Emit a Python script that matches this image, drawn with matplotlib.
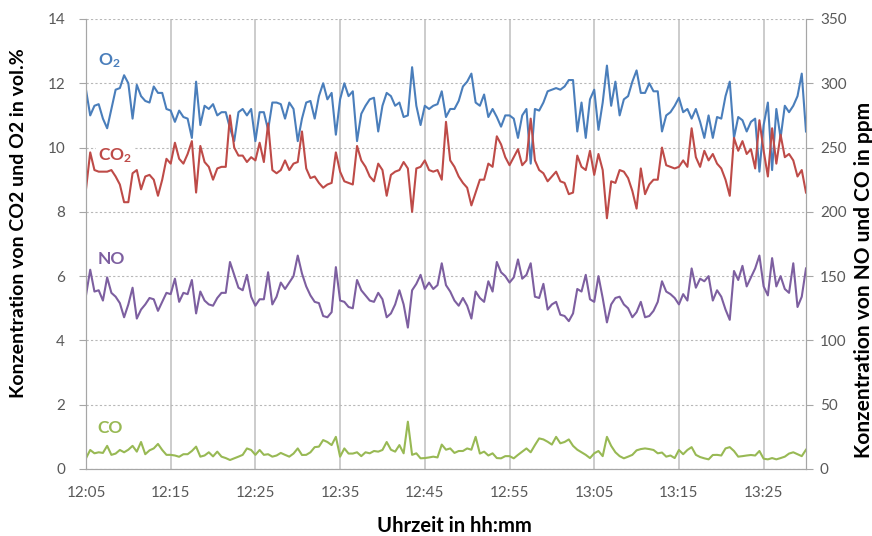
import numpy as np
import matplotlib.pyplot as plt

plt.rcParams['font.family'] = ['Lato', 'DejaVu Sans']

# Minuten ab 12:05, alle 30 s ein Messwert
minuten = np.arange(0, 85.5, 0.5)

# CO2 und O2 in vol.% (linke Achse)
o2 = [11.8, 11.0, 11.3, 11.35, 10.9, 10.6, 11.2, 11.8, 11.85, 12.25, 12.0, 10.9, 11.95, 11.6, 11.45, 11.4, 11.9, 11.7, 11.7, 11.2,
      11.15, 10.8, 11.15, 10.95, 10.9, 10.3, 12.05, 10.7, 11.3, 11.2, 11.35, 11.0, 11.1, 11.1, 10.6, 10.2, 11.1, 11.2, 11.0, 11.2,
      10.2, 11.1, 11.1, 10.55, 11.4, 11.4, 11.35, 10.9, 11.4, 11.2, 10.2, 10.9, 11.4, 11.45, 10.9, 11.6, 12.0, 11.5, 11.7, 10.4,
      11.5, 12.0, 11.6, 11.75, 10.2, 11.05, 11.3, 11.5, 11.55, 10.5, 11.3, 11.7, 11.6, 11.3, 11.4, 10.95, 11.0, 12.5, 11.3, 10.7,
      11.3, 11.2, 11.3, 11.35, 11.75, 10.95, 11.2, 11.2, 11.45, 11.9, 12.05, 12.3, 11.4, 11.3, 11.65, 10.95, 11.2, 10.95, 10.65, 11.0,
      11.0, 10.9, 10.3, 11.0, 11.2, 9.5, 11.2, 11.15, 11.4, 11.75, 11.8, 11.85, 11.8, 11.9, 12.1, 12.1, 10.5, 11.4, 10.3, 11.5,
      11.8, 10.55, 11.4, 12.55, 11.3, 12.05, 11.0, 11.5, 11.6, 12.05, 12.4, 11.7, 11.7, 12.0, 11.75, 11.75, 10.5, 11.0, 11.1, 11.3,
      11.55, 11.1, 11.2, 10.9, 11.2, 10.8, 10.3, 11.0, 10.3, 10.95, 10.9, 11.6, 12.05, 10.3, 10.95, 10.85, 10.5, 10.8, 10.9, 9.25,
      10.7, 11.4, 9.3, 11.2, 10.3, 11.3, 11.1, 11.3, 11.6, 12.3, 10.5]
co2 = [8.7, 9.85, 9.3, 9.25, 9.25, 9.25, 9.3, 9.1, 8.85, 8.3, 8.3, 9.2, 9.3, 8.7, 9.1, 9.15, 9.0, 8.5, 9.0, 9.65,
       9.5, 10.15, 9.65, 9.5, 9.8, 10.2, 8.6, 10.05, 9.55, 9.4, 9.0, 9.35, 9.4, 9.4, 11.0, 10.0, 9.75, 9.75, 9.55, 9.7,
       9.6, 10.15, 9.55, 10.75, 9.3, 9.2, 9.3, 9.6, 9.3, 9.5, 9.55, 10.5, 9.35, 9.05, 9.1, 8.9, 8.75, 8.85, 8.9, 9.85,
       9.25, 8.95, 8.9, 8.85, 10.05, 9.6, 9.4, 9.1, 8.95, 9.5, 9.3, 8.5, 9.15, 9.25, 9.3, 9.55, 9.35, 8.0, 9.35, 9.4,
       9.6, 9.3, 9.25, 9.3, 9.0, 10.8, 9.6, 9.4, 9.1, 8.9, 8.75, 8.2, 8.6, 9.0, 9.0, 9.5, 9.4, 10.35, 10.1, 9.7,
       9.45, 9.7, 9.95, 9.45, 9.6, 10.9, 9.6, 9.3, 9.2, 8.95, 9.1, 9.25, 8.95, 8.9, 8.55, 8.6, 9.75, 9.4, 9.3, 9.9,
       9.15, 9.8, 9.3, 7.8, 8.95, 8.9, 9.3, 9.25, 9.05, 8.65, 8.1, 9.35, 8.55, 8.85, 9.0, 9.0, 10.0, 9.45, 9.4, 9.35,
       9.4, 9.6, 9.4, 10.6, 9.7, 9.4, 9.9, 9.6, 9.8, 9.5, 9.35, 9.0, 8.5, 10.3, 9.9, 10.2, 9.8, 9.95, 9.35, 10.85,
       9.9, 9.1, 10.6, 9.5, 10.4, 9.7, 9.8, 9.6, 9.1, 9.3, 8.6]

# NO und CO in ppm (rechte Achse)
no = [135, 155, 138, 139, 131, 149, 137, 134, 129, 118, 128, 141, 117, 124, 128, 133, 132, 123, 130, 137,
      136, 148, 130, 137, 136, 147, 121, 138, 131, 128, 127, 133, 137, 137, 161, 151, 141, 139, 151, 134,
      127, 132, 132, 153, 128, 134, 145, 140, 145, 150, 166, 152, 142, 135, 130, 129, 119, 118, 122, 157,
      131, 130, 126, 125, 147, 139, 135, 131, 130, 137, 132, 118, 121, 128, 139, 128, 110, 139, 144, 151,
      140, 145, 140, 143, 160, 143, 138, 131, 127, 133, 127, 117, 138, 133, 130, 146, 138, 161, 153, 150,
      145, 149, 163, 148, 151, 160, 134, 133, 144, 124, 128, 130, 120, 119, 115, 121, 140, 138, 151, 132,
      130, 150, 133, 114, 128, 133, 134, 128, 125, 118, 122, 130, 118, 119, 123, 130, 146, 138, 136, 133,
      128, 136, 131, 156, 141, 148, 146, 150, 131, 139, 134, 124, 116, 154, 147, 158, 142, 149, 156, 166,
      142, 135, 164, 142, 150, 140, 137, 160, 126, 134, 156]
co = [8.3, 14.8, 12.2, 13, 12.5, 18, 11, 12, 14.8, 13, 15, 18, 13.5, 21, 11.5, 14.5, 16, 19.5, 14.8, 11,
      11, 10.5, 9.5, 11.5, 11.5, 14, 17.4, 9.6, 10.5, 13, 9.8, 13.5, 9.6, 8.5, 7.0, 8.3, 9.6, 11, 16, 14.8,
      11, 14.8, 11, 11.5, 9.6, 10.5, 12.5, 11, 9.6, 12, 16, 10.9, 11, 13, 17, 17.4, 22.5, 21, 18.6, 25,
      9.6, 16, 12, 12, 13, 10, 13, 12.2, 14, 13.5, 14.8, 21, 15, 13.5, 18.6, 12.2, 36.8, 11, 12.2, 8.3,
      8.5, 9, 9.6, 9, 19, 15, 16, 12.5, 14, 14, 16, 15, 25, 12, 13.5, 10.5, 12.2, 8.5, 8.3, 10,
      10, 8.3, 11, 13.5, 16, 13, 18.6, 23.8, 23, 21.2, 19, 25, 20, 21, 23, 18, 15, 13, 11, 8.5,
      12.2, 14, 10, 25, 18, 13, 10, 8.3, 9.6, 11, 14.5, 15.5, 16, 15.5, 14.8, 12.2, 12.8, 9.6, 10.5, 8.5,
      14.8, 11.5, 14.8, 17, 11, 9.3, 8.3, 7.5, 10.9, 11, 10.5, 16, 17, 14, 9.6, 10, 10.5, 10.9, 10.5, 14,
      8, 7.5, 8.5, 7.5, 8.5, 9.6, 12, 13, 11.5, 10, 15]

zeit_ticks = [0, 10, 20, 30, 40, 50, 60, 70, 80]
zeit_labels = ['12:05', '12:15', '12:25', '12:35', '12:45', '12:55', '13:05', '13:15', '13:25']

blau = '#4a7ebb'
rot = '#be4b48'
lila = '#7d5fa0'
gruen = '#98b954'
grau = '#595959'

fig = plt.figure(figsize=(8.72, 5.36), dpi=100)
ax = fig.add_axes([0.0986, 0.125, 0.8257, 0.8396])
ax2 = ax.twinx()

ax.plot(minuten, o2, color=blau, lw=1.5, zorder=3)
ax.plot(minuten, co2, color=rot, lw=1.5, zorder=3)
ax2.plot(minuten, no, color=lila, lw=1.5)
ax2.plot(minuten, co, color=gruen, lw=1.5)

ax.set_xlim(0, 85)
ax.set_ylim(0, 14)
ax2.set_ylim(0, 350)
ax.set_yticks(range(0, 15, 2))
ax2.set_yticks(range(0, 351, 50))
ax.set_xticks(zeit_ticks)
ax.set_xticklabels(zeit_labels)

ax.yaxis.grid(True, linestyle=(0, (2, 2)), color='#b8b8b8', lw=0.8)
ax.xaxis.grid(True, linestyle='-', color='#c4c4c4', lw=1.2)
ax.set_axisbelow(True)

for a in (ax, ax2):
    for s in a.spines.values():
        s.set_color('#a6a6a6')
    a.spines['top'].set_visible(False)
    a.tick_params(colors='#a6a6a6', labelcolor=grau, labelsize=11, length=5)
ax.tick_params(axis='y', pad=10)
ax2.tick_params(axis='y', pad=5)
ax.tick_params(axis='x', length=0, pad=12)

ax.set_xlabel('Uhrzeit in hh:mm', fontsize=14.5, fontweight='bold')
ax.xaxis.set_label_coords(0.511, -0.105)
ax.set_ylabel('Konzentration von CO2 und O2 in vol.%', fontsize=14, fontweight='bold')
ax.yaxis.set_label_coords(-0.082, 0.547)
ax2.set_ylabel('Konzentration von NO und CO in ppm', fontsize=15, fontweight='bold')
ax2.yaxis.set_label_coords(1.066, 0.42)

# Beschriftung direkt an den Kurven
box = dict(facecolor='white', edgecolor='none', pad=1.5)
stil = dict(fontsize=12.5, fontweight='bold', va='center', bbox=box, zorder=5)
ax.text(1.4, 12.7, r'$\mathregular{O_2}$', color=blau, **stil)
ax.text(1.4, 9.75, r'$\mathregular{CO_2}$', color=rot, **stil)
ax2.text(1.4, 163, 'NO', color=lila, **stil)
ax2.text(1.4, 32, 'CO', color=gruen, **stil)

fig.savefig('out.png', dpi=100)
